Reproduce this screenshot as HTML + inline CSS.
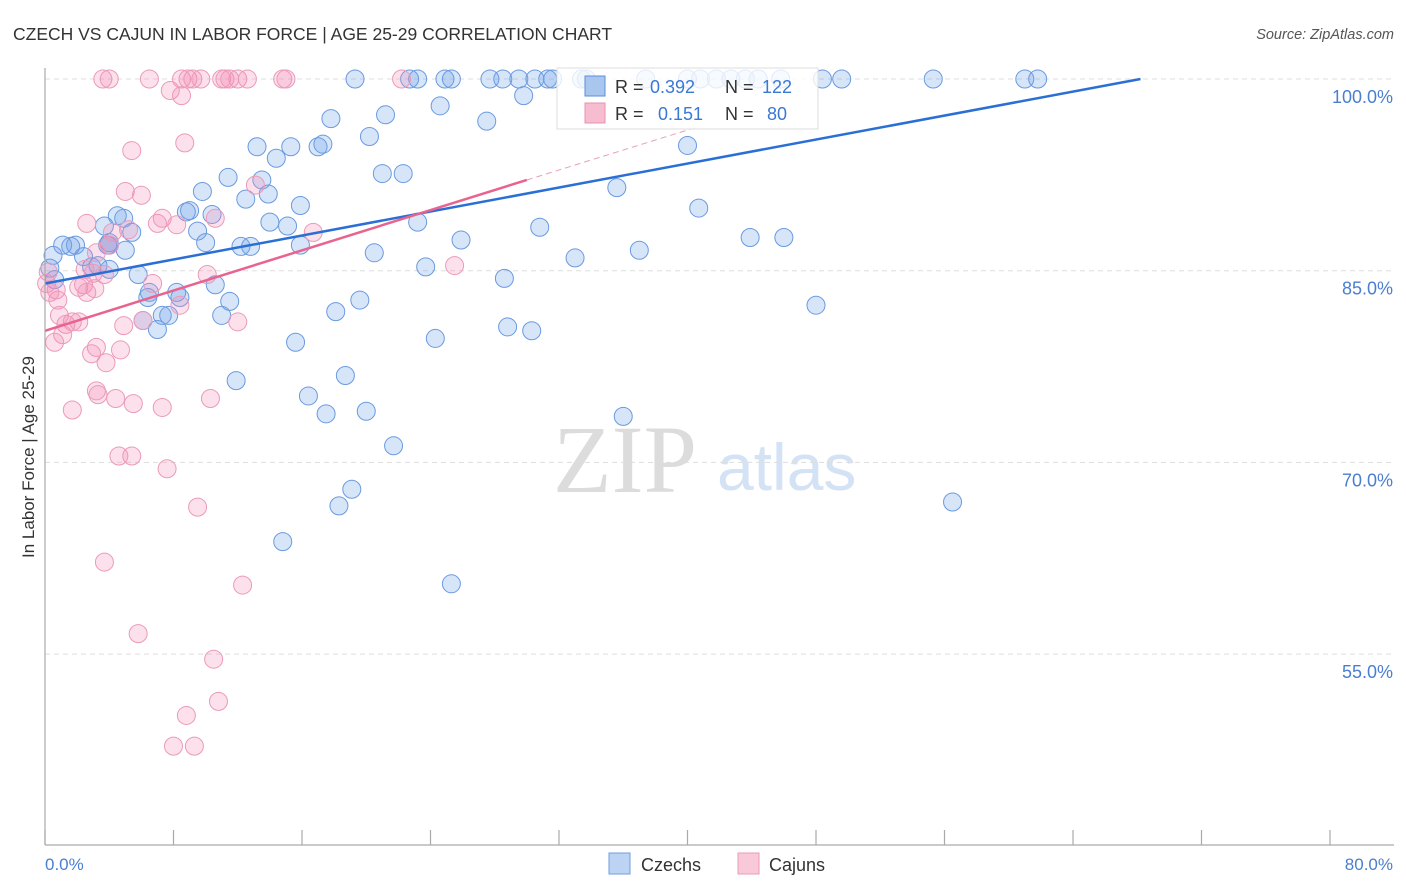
<!DOCTYPE html>
<html><head><meta charset="utf-8"><style>
body{margin:0;background:#fff;}
svg{display:block;font-family:"Liberation Sans",sans-serif;}
</style></head><body>
<svg id="chart" width="1406" height="892" viewBox="0 0 1406 892">
<text x="13" y="40" font-size="17.5" fill="#333">CZECH VS CAJUN IN LABOR FORCE | AGE 25-29 CORRELATION CHART</text>
<text x="1394" y="39" font-size="14.5" fill="#555" text-anchor="end" font-style="italic">Source: ZipAtlas.com</text>
<g>
<text x="553" y="492" font-size="96" fill="#dcdcdc" font-family="Liberation Serif,serif">ZIP</text>
<text x="717" y="490" font-size="66" fill="#d4e2f5">atlas</text>
</g>
<g id="grid"></g>
<g id="points"></g>
<g id="lines"></g>
<line x1="45" y1="68" x2="45" y2="845" stroke="#aaa" stroke-width="1.2"/>
<line x1="45" y1="845" x2="1394" y2="845" stroke="#aaa" stroke-width="1.2"/>
<g id="xticks"></g>
<text transform="translate(34,457) rotate(-90)" font-size="17" fill="#333" text-anchor="middle">In Labor Force | Age 25-29</text>
<text x="45" y="870" font-size="17" fill="#4a7fd0">0.0%</text>
<text x="1393" y="870" font-size="17" fill="#4a7fd0" text-anchor="end">80.0%</text>
<g>
<rect x="557" y="68" width="261" height="61" fill="#fff" fill-opacity="0.8" stroke="#ddd"/>
<rect x="585" y="76" width="20" height="20" fill="#a9c6ef" stroke="#5b8fd9"/>
<text x="615" y="93" font-size="18" fill="#333">R = </text><text x="650" y="93" font-size="18" fill="#3a78d6">0.392</text>
<text x="725" y="93" font-size="18" fill="#333">N = </text><text x="762" y="93" font-size="18" fill="#3a78d6">122</text>
<rect x="585" y="103" width="20" height="20" fill="#f6bcd0" stroke="#e891b0"/>
<text x="615" y="120" font-size="18" fill="#333">R = </text><text x="658" y="120" font-size="18" fill="#3a78d6">0.151</text>
<text x="725" y="120" font-size="18" fill="#333">N = </text><text x="767" y="120" font-size="18" fill="#3a78d6">80</text>
</g>
<g>
<rect x="609" y="853" width="21" height="21" fill="#bcd3f3" stroke="#6f9ce0"/>
<text x="641" y="871" font-size="18" fill="#333">Czechs</text></g>
<g>
<rect x="738" y="853" width="21" height="21" fill="#f9c9d9" stroke="#eb9ab8"/>
<text x="769" y="871" font-size="18" fill="#333">Cajuns</text></g>
</svg>
<script>
const yTicks=[100,85,70,55];
const yTickLabels=["100.0%","85.0%","70.0%","55.0%"];
const xTicks=[0,8,16,24,32,40,48,56,64,72,80];
const czechX=[19.3,23.2,24.9,25.3,27.7,28.5,29.5,30.5,31.3,31.6,33.4,33.7,37.4,40.0,40.8,41.8,42.7,43.6,44.4,45.8,48.4,49.6,55.3,61.0,61.8,22.7,
29.8,24.6,27.5,17.8,21.2,20.2,15.3,13.2,17.0,17.3,14.4,21.0,22.3,13.5,11.4,15.9,9.8,12.5,13.9,4.5,4.9,9.0,8.8,10.4,14.0,15.1,3.7,5.4,9.5,23.2,30.8,35.6,40.0,40.7,43.9,46.0,37.0,33.0,25.9,4.0,1.1,1.9,1.6,2.4,3.9,10.0,12.2,12.8,15.9,20.5,23.7,5.0,0.5,2.9,3.3,4.0,5.8,0.3,0.6,28.6,48.0,19.6,11.5,10.6,6.5,6.4,8.2,8.4,11.0,7.3,7.7,6.1,7.0,18.1,28.8,30.3,24.3,15.6,11.9,18.7,16.4,17.5,20.0,36.0,21.7,19.1,18.3,14.8,25.3,56.5,4.0];
const czechY=[100,100,100,100,100,100,100,100,100,100,100,100,100,100,100,100,100,100,100,100,100,100,100,100,100,100,
98.7,97.9,96.7,96.9,97.2,95.5,94.7,94.7,94.7,94.9,93.8,92.6,92.6,92.1,92.3,90.1,91.2,90.6,91.0,89.3,89.1,89.7,89.6,89.4,88.8,88.5,88.5,88.0,88.1,88.8,88.4,91.5,94.8,89.9,87.6,87.6,86.6,86.0,87.4,87.0,87.0,87.0,86.9,86.1,87.0,87.2,86.9,86.9,87.0,86.4,85.3,86.6,86.2,85.3,85.4,85.1,84.7,85.2,84.3,84.4,82.3,82.7,82.6,83.9,83.3,82.9,83.3,82.9,81.5,81.5,81.5,81.1,80.4,81.8,80.6,80.3,79.7,79.4,76.4,76.8,75.2,73.8,74.0,73.6,71.3,67.9,66.6,63.8,60.5,66.9,87.2];
const cajunX=[3.6,4.0,6.5,8.5,8.9,9.2,9.7,11.0,11.2,11.5,12.0,12.6,14.8,15.0,22.2,7.8,8.5,5.4,8.7,5.0,6.0,2.6,7.0,7.3,10.6,8.2,4.2,5.2,16.7,13.1,4.0,3.2,2.5,0.1,0.2,0.7,0.8,2.1,2.4,2.6,3.1,3.0,3.7,0.9,1.7,1.3,2.1,1.1,0.6,6.7,8.4,10.1,12.0,4.9,6.1,3.2,2.9,3.8,4.7,3.2,3.3,4.4,5.5,1.7,7.3,10.3,4.6,5.4,7.6,9.5,3.7,12.3,5.8,10.5,8.8,10.8,8.0,9.3,25.5,0.3];
const cajunY=[100,100,100,100,100,100,100,100,100,100,100,100,100,100,100,99.1,98.7,94.4,95.0,91.2,90.9,88.7,88.7,89.1,89.1,88.6,88.0,88.2,88.0,91.7,87.0,86.4,85.1,84.0,84.9,83.5,82.7,83.7,83.9,83.3,83.6,84.8,84.7,81.5,81.0,80.8,81.0,80.0,79.4,84.0,82.3,84.7,81.0,80.7,81.1,79.0,78.5,77.8,78.8,75.6,75.3,75.0,74.6,74.1,74.3,75.0,70.5,70.5,69.5,66.5,62.2,60.4,56.6,54.6,50.2,51.3,47.8,47.8,85.4,83.3];
const czechTrend=[[0,84.0],[68.2,100]];
const cajunTrend=[[0,80.3],[30.0,92.1]];
const cajunTrendExt=[[30.0,92.1],[40.5,96.2]];

const NS="http://www.w3.org/2000/svg";
const X=v=>45+v*(1285/80);
const Y=v=>79+(100-v)*(191.7/15);
function mk(tag,attrs,parent){const e=document.createElementNS(NS,tag);for(const k in attrs)e.setAttribute(k,attrs[k]);parent.appendChild(e);return e;}
const grid=document.getElementById('grid');
yTicks.forEach((t,i)=>{
 const l=mk('line',{x1:45,x2:1394,y1:Y(t),y2:Y(t),stroke:'#ddd','stroke-dasharray':'5,4'},grid);
 
 
 const tx=mk('text',{x:1393,y:Y(t)+24,'font-size':18,fill:'#4a7fd0','text-anchor':'end'},grid);
 tx.textContent=yTickLabels[i];
 
 
});
const xt=document.getElementById('xticks');
xTicks.forEach(t=>{
 const l=mk('line',{x1:X(t),x2:X(t),y1:830,y2:845,stroke:'#aaa','stroke-width':1.2},xt);
 
 
});
const pts=document.getElementById('points');
czechX.forEach((v,i)=>{
 const c=mk('circle',{cx:X(v),cy:Y(czechY[i]),r:9,fill:'rgba(110,160,235,0.28)',stroke:'#6a9ae0','stroke-width':1},pts);
 
 
});
cajunX.forEach((v,i)=>{
 const c=mk('circle',{cx:X(v),cy:Y(cajunY[i]),r:9,fill:'rgba(245,140,180,0.26)',stroke:'#eb9ab8','stroke-width':1},pts);
 
 
});
const ln=document.getElementById('lines');
const a=mk('line',{x1:X(czechTrend[0][0]),y1:Y(czechTrend[0][1]),x2:X(czechTrend[1][0]),y2:Y(czechTrend[1][1]),stroke:'#2a6fd6','stroke-width':2.5},ln);


const b=mk('line',{x1:X(cajunTrend[0][0]),y1:Y(cajunTrend[0][1]),x2:X(cajunTrend[1][0]),y2:Y(cajunTrend[1][1]),stroke:'#e8648f','stroke-width':2.5},ln);


const d=mk('line',{x1:X(cajunTrendExt[0][0]),y1:Y(cajunTrendExt[0][1]),x2:X(cajunTrendExt[1][0]),y2:Y(cajunTrendExt[1][1]),stroke:'#e8a0b8','stroke-width':1,'stroke-dasharray':'6,4'},ln);


</script>
</body></html>
